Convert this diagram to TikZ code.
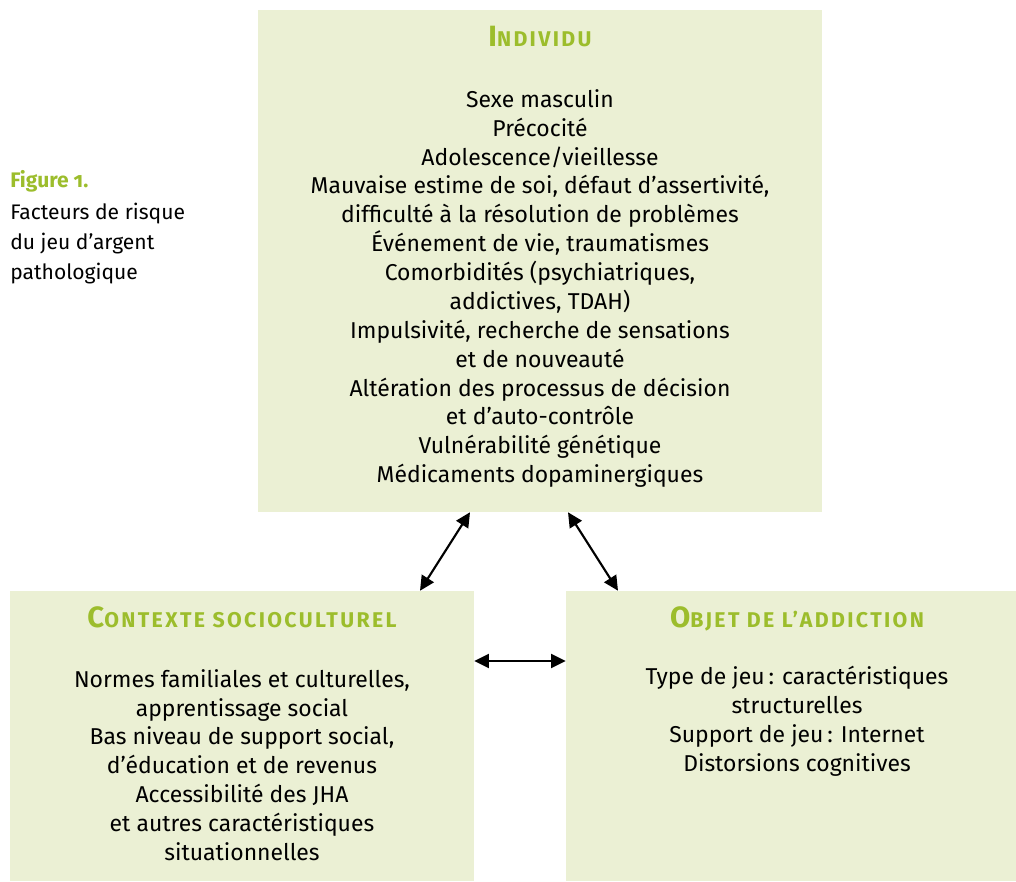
\documentclass[tikz,border=0pt]{standalone}
\usepackage{fontspec}
\setmainfont{Fira Sans}[Numbers=OldStyle]
\usetikzlibrary{arrows.meta,calc}
\definecolor{boxfill}{RGB}{235,240,212}
\definecolor{titlegreen}{RGB}{156,189,44}
\newcommand{\sctitle}[2]{{\fontsize{22}{26}\selectfont #1}{\fontsize{16}{26}\selectfont\addfontfeature{LetterSpace=11}#2}}
\begin{document}
\begin{tikzpicture}[x=0.75pt,y=-0.75pt,
  box/.style={fill=boxfill,draw=none,inner sep=0pt},
  boxtitle/.style={text=titlegreen,font=\bfseries,inner sep=0pt,anchor=base},
  body/.style={align=center,font=\fontsize{17.2}{21.65}\selectfont,inner sep=0pt},
  caption/.style={anchor=base west,inner sep=0pt,font=\fontsize{15.8}{18}\selectfont},
  link/.style={line width=1.6pt,{Triangle[length=11pt,width=10.5pt]}-{Triangle[length=11pt,width=10.5pt]}}
]
\useasboundingbox (0,0) rectangle (1016,881);

% boxes
\node[box,minimum width=423pt,minimum height=376.5pt] (indiv) at (540,261) {};
\node[box,minimum width=348pt,minimum height=217.5pt] (ctx) at (242,736) {};
\node[box,minimum width=337.5pt,minimum height=217.5pt] (obj) at (791,736) {};

% titles
\node[boxtitle] (indivT) at (540,47) {\sctitle{I}{NDIVIDU}};
\node[boxtitle] (ctxT) at (242,627) {\sctitle{C}{ONTEXTE SOCIOCULTUREL}};
\node[boxtitle] (objT) at (797,627) {\sctitle{O}{BJET DE L’ADDICTION}};

% bodies
\node[body] (indivB) at (540,288.5) {Sexe masculin\\
Précocité\\
Adolescence/vieillesse\\
Mauvaise estime de soi, défaut d’assertivité,\\
difficulté à la résolution de problèmes\\
Événement de vie, traumatismes\\
Comorbidités (psychiatriques,\\
addictives, TDAH)\\
Impulsivité, recherche de sensations\\
et de nouveauté\\
Altération des processus de décision\\
et d’auto-contrôle\\
Vulnérabilité génétique\\
Médicaments dopaminergiques};

\node[body] (ctxB) at (242,765) {Normes familiales et culturelles,\\
apprentissage social\\
Bas niveau de support social,\\
d’éducation et de revenus\\
Accessibilité des JHA\\
et autres caractéristiques\\
situationnelles};

\node[body] (objB) at (797,721.5) {Type de jeu\,: caractéristiques\\
structurelles\\
Support de jeu\,: Internet\\
Distorsions cognitives};

% caption
\node[caption,text=titlegreen,font=\fontsize{15.8}{18}\selectfont\bfseries] (figno) at (10,187) {Figure 1.};
\node[caption] (cap1) at (10,219) {Facteurs de risque};
\node[caption] (cap2) at (10,249) {du jeu d’argent};
\node[caption] (cap3) at (10,279) {pathologique};

% connectors
\draw[link] ($(indiv.south)+(-70,0)$) -- ($(ctx.north)+(178,0)$);
\draw[link] ($(indiv.south)+(28,0)$) -- ($(obj.north)+(-173,0)$);
\draw[link] ($(ctx.east)+(0,-75)$) -- ($(obj.west)+(0,-75)$);
\end{tikzpicture}
\end{document}
